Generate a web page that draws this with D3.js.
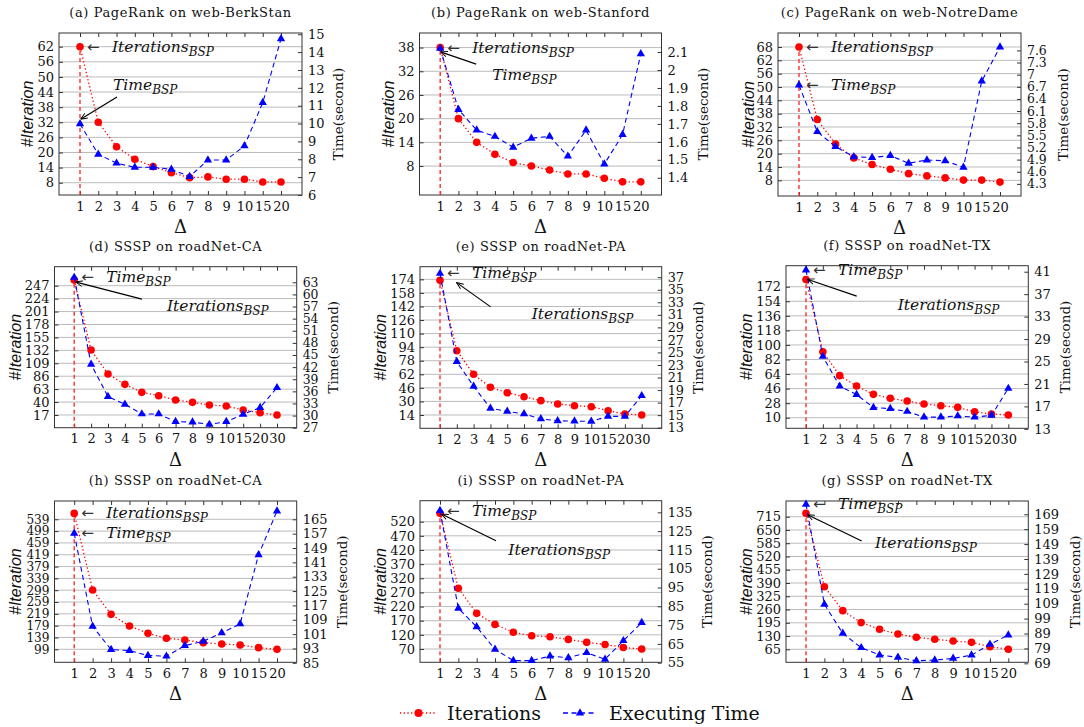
<!DOCTYPE html>
<html><head><meta charset="utf-8">
<script src="https://cdn.jsdelivr.net/npm/d3@7"></script>
<style>body{margin:0;background:#fff;} svg{display:block}</style>
</head><body><svg id="chart" width="1084" height="727"></svg>
<script>
// ---------- categories ----------
const deltaPR   = ["1","2","3","4","5","6","7","8","9","10","15","20"];
const deltaRoad = ["1","2","3","4","5","6","7","8","9","10","15","20","30"];
const seriesNames = ["Iterations", "Executing Time"];

// ---------- series values ----------
const iterA = [62,32,22.3,17.3,14.4,12,10,10.3,9.4,9.4,8.3,8.3];
const timeA = [9.98,8.28,7.78,7.55,7.55,7.44,7.03,7.96,7.96,8.75,11.17,14.74];
const iterB = [38,20,14,11,8.9,8,7,6,6,4.9,4,4];
const timeB = [2.12,1.78,1.665,1.63,1.57,1.62,1.63,1.52,1.665,1.476,1.64,2.09];
const iterC = [68,35.4,24.3,18.1,15.1,13,11,10,9.1,8.1,8.1,7.2];
const timeC = [6.74,5.59,5.22,4.97,4.95,5.0,4.81,4.89,4.87,4.71,6.84,7.68];
const iterD = [257,132.6,89.9,71.5,57.3,51.3,43.6,39.5,34.8,33,25.9,21.1,17];
const timeD = [64.2,42.7,34.7,32.8,30.4,30.4,28.5,28.4,27.8,28.5,30.3,32,36.9];
const iterE = [173,89.8,62,46.7,40.3,35.6,30.9,27,25,23.8,19.1,15.2,14];
const timeE = [37.6,23.55,19.6,16.1,15.6,15.2,14.4,14.1,14.05,14,14.8,14.8,18.1];
const iterF = [181,91.6,62,49.2,38.9,34,30.6,26.9,24.8,22.8,17.4,14.6,13.3];
const timeF = [41.3,25.9,20.6,19.1,16.8,16.6,16.1,15.1,15.1,15.3,15.1,15.4,20.2];
const iterH = [559,299.7,217.3,177.8,153,136.2,130.5,121.5,117,113.6,104.5,99];
const timeH = [157.2,105.3,92.4,91.8,89.1,88.7,94.6,97,101.7,106.7,145.2,169.6];
const iterI = [549.7,284.6,196,157,129,117,113.5,104,93.5,86,75.5,70];
const timeI = [135.9,83.9,74.1,62.1,56.1,56.1,58.5,57.6,60.3,56.8,66.7,76.3];
const iterG = [731.7,372,254.6,195.8,163,140,123.8,114,105.7,99.2,78,65];
const timeG = [175.7,108.6,89.1,79.5,74.6,73,70.7,71.2,72.3,74.5,81.7,88];

// ---------- tick labels ----------
const ticksIterA = [8,14,20,26,32,38,44,50,56,62];
const ticksTimeA = [6,7,8,9,10,11,12,13,14,15];
const ticksIterB = [8,14,20,26,32,38];
const ticksTimeB = [1.4,1.5,1.6,1.7,1.8,1.9,2,2.1];
const ticksIterC = [8,14,20,26,32,38,44,50,56,62,68];
const ticksTimeC = [4.3,4.6,4.9,5.2,5.5,5.8,6.1,6.4,6.7,7,7.3,7.6];
const ticksIterD = [17,40,63,86,109,132,155,178,201,224,247];
const ticksTimeD = [27,30,33,36,39,42,45,48,51,54,57,60,63];
const ticksIterE = [14,30,46,62,78,94,110,126,142,158,174];
const ticksTimeE = [13,15,17,19,21,23,25,27,29,31,33,35,37];
const ticksIterF = [10,28,46,64,82,100,118,136,154,172];
const ticksTimeF = [13,17,21,25,29,33,37,41];
const ticksIterH = [99,139,179,219,259,299,339,379,419,459,499,539];
const ticksTimeH = [85,93,101,109,117,125,133,141,149,157,165];
const ticksIterI = [70,120,170,220,270,320,370,420,470,520];
const ticksTimeI = [55,65,75,85,95,105,115,125,135];
const ticksIterG = [65,130,195,260,325,390,455,520,585,650,715];
const ticksTimeG = [69,79,89,99,109,119,129,139,149,159,169];

// ---------- panel setup (layout) ----------
const panels = [
  {title:"(a) PageRank on web-BerkStan", cats:deltaPR, iter:iterA, time:timeA, iterTicks:ticksIterA, timeTicks:ticksTimeA,
   iterDomain:[3.12,67.44], timeDomain:[6,15.07], box:[59,33,302,195], pad:21, lDx:-31, rDx:36,
   notes:[{kind:"inline", series:"iter", text:"Iterations"},
          {kind:"pointer", series:"time", text:"Time", s:[37,-27], e:[1,-5], l:[33,-34]}]},
  {title:"(b) PageRank on web-Stanford", cats:deltaPR, iter:iterB, time:timeB, iterTicks:ticksIterB, timeTicks:ticksTimeB,
   iterDomain:[0.67,41.69], timeDomain:[1.304,2.206], box:[419.5,33,661.5,195], pad:20.7, lDx:-31, rDx:41,
   notes:[{kind:"inline", series:"iter", text:"Iterations"},
          {kind:"pointer", series:"time", text:"Time", s:[36,15.7], e:[1,3.7], l:[52,31.7]}]},
  {title:"(c) PageRank on web-NotreDame", cats:deltaPR, iter:iterC, time:timeC, iterTicks:ticksIterC, timeTicks:ticksTimeC,
   iterDomain:[0.95,74.29], timeDomain:[4.0,8.03], box:[778,33,1021,196], pad:21, lDx:-29, rDx:42,
   notes:[{kind:"inline", series:"iter", text:"Iterations"},
          {kind:"inline", series:"time", text:"Time"}]},
  {title:"(d) SSSP on roadNet-CA", cats:deltaRoad, iter:iterD, time:timeD, iterTicks:ticksIterD, timeTicks:ticksTimeD,
   iterDomain:[-5.6,280.8], timeDomain:[27,66.86], box:[54.5,266.7,296.7,427.7], pad:19.7, lDx:-39, rDx:36,
   notes:[{kind:"inline", series:"time", text:"Time"},
          {kind:"pointer", series:"iter", text:"Iterations", s:[67.7,19], e:[2,2], l:[92.7,31]}]},
  {title:"(e) SSSP on roadNet-PA", cats:deltaRoad, iter:iterE, time:timeE, iterTicks:ticksIterE, timeTicks:ticksTimeE,
   iterDomain:[-1.68,188.9], timeDomain:[12.9,38.68], box:[420,266.7,661.7,428.3], pad:20, lDx:-39, rDx:36,
   notes:[{kind:"inline", series:"time", text:"Time"},
          {kind:"pointer", series:"iter", text:"Iterations", s:[50.7,26.7], e:[17,2.7], l:[91.7,38.5]}]},
  {title:"(f) SSSP on roadNet-TX", cats:deltaRoad, iter:iterF, time:timeF, iterTicks:ticksIterF, timeTicks:ticksTimeF,
   iterDomain:[-3.1,198], timeDomain:[13.1,42.07], box:[786,265.7,1028.3,428.3], pad:20, lDx:-39, rDx:37,
   notes:[{kind:"inline", series:"time", text:"Time"},
          {kind:"pointer", series:"iter", text:"Iterations", s:[50.7,16.7], e:[2,0], l:[91.7,30.7]}]},
  {title:"(h) SSSP on roadNet-CA", cats:deltaPR, iter:iterH, time:timeH, iterTicks:ticksIterH, timeTicks:ticksTimeH,
   iterDomain:[55,600.9], timeDomain:[85.3,175.2], box:[54.5,501,296.7,662.3], pad:19.7, lDx:-39, rDx:45,
   notes:[{kind:"inline", series:"iter", text:"Iterations"},
          {kind:"inline", series:"time", text:"Time"}]},
  {title:"(i) SSSP on roadNet-PA", cats:deltaPR, iter:iterI, time:timeI, iterTicks:ticksIterI, timeTicks:ticksTimeI,
   iterDomain:[23,594.2], timeDomain:[55.2,141.2], box:[420,500.7,661.7,662.3], pad:20, lDx:-39, rDx:45,
   notes:[{kind:"inline", series:"time", text:"Time"},
          {kind:"pointer", series:"iter", text:"Iterations", s:[56,27.4], e:[2,1], l:[68.3,41.7]}]},
  {title:"(g) SSSP on roadNet-TX", cats:deltaPR, iter:iterG, time:timeG, iterTicks:ticksIterG, timeTicks:ticksTimeG,
   iterDomain:[1.3,792], timeDomain:[69.7,177.9], box:[786,501,1028.3,662.3], pad:20, lDx:-39, rDx:47,
   notes:[{kind:"inline", series:"time", text:"Time"},
          {kind:"pointer", series:"iter", text:"Iterations", s:[55.7,27.7], e:[2,1.7], l:[69,35]}]}
];

const RED = "#ff0000", BLUE = "#0000ff";
const SERIF = "DejaVu Serif";
const svg = d3.select("#chart").attr("font-family", SERIF);

const defs = svg.append("defs");
defs.append("marker").attr("id","arr").attr("viewBox","0 -5 10 10").attr("refX",9).attr("refY",0)
  .attr("markerWidth",7).attr("markerHeight",7).attr("orient","auto").attr("markerUnits","userSpaceOnUse")
  .append("path").attr("d","M0,-4L10,0L0,4").attr("fill","none").attr("stroke","#000").attr("stroke-width",1.3);

const tri = d3.symbol().type(d3.symbolTriangle).size(30);

function bspLabel(g, x, y, main) {
  const t = g.append("text").attr("x", x).attr("y", y)
    .attr("font-family", SERIF).attr("font-style", "italic").attr("font-size", 15.5).attr("fill", "#111");
  t.append("tspan").text(main);
  t.append("tspan").attr("dy", 4).attr("font-size", 12).text("BSP");
}

panels.forEach(p => {
  const [x0, y0, x1, y1] = p.box;
  const g = svg.append("g");
  const x = d3.scalePoint().domain(p.cats).range([x0 + p.pad, x1 - p.pad]);
  const yL = d3.scaleLinear().domain(p.iterDomain).range([y1, y0]);
  const yR = d3.scaleLinear().domain(p.timeDomain).range([y1, y0]);

  // grid
  g.append("g").selectAll("line").data(p.iterTicks).join("line")
    .attr("x1", x0).attr("x2", x1).attr("y1", d => yL(d)).attr("y2", d => yL(d))
    .attr("stroke", "#bbbbbb").attr("stroke-width", 1);

  const styleAxis = (sel, fs) => {
    sel.attr("font-family", SERIF);
    sel.select(".domain").remove();
    sel.selectAll(".tick line").attr("stroke", "#333");
    sel.selectAll(".tick text").attr("font-family", SERIF).attr("font-size", fs).attr("fill", "#111");
  };
  const spacing = (sc, t) => Math.abs(sc(t[1]) - sc(t[0]));
  const fsL = Math.min(13, spacing(yL, p.iterTicks) + 0.3);
  const fsR = Math.min(13, spacing(yR, p.timeTicks) + 0.3);
  g.append("g").attr("transform", `translate(${x0},0)`)
    .call(d3.axisLeft(yL).tickValues(p.iterTicks).tickSize(-4).tickPadding(5).tickFormat(d => String(d))).call(styleAxis, fsL);
  g.append("g").attr("transform", `translate(${x1},0)`)
    .call(d3.axisRight(yR).tickValues(p.timeTicks).tickSize(-4).tickPadding(6).tickFormat(d => String(d))).call(styleAxis, fsR);
  g.append("g").attr("transform", `translate(0,${y1})`)
    .call(d3.axisBottom(x).tickSize(-4).tickPadding(6.5)).call(styleAxis, 13);
  g.append("g").attr("transform", `translate(0,${y0})`)
    .call(d3.axisTop(x).tickSize(-4).tickFormat("")).call(styleAxis, 13);

  // frame
  g.append("rect").attr("x", x0).attr("y", y0).attr("width", x1 - x0).attr("height", y1 - y0)
    .attr("fill", "none").attr("stroke", "#333").attr("stroke-width", 1);

  // title
  g.append("text").attr("x", (x0 + x1) / 2).attr("y", y0 - 16).attr("text-anchor", "middle")
    .attr("font-family", SERIF).attr("font-size", 13).attr("letter-spacing", 0.6).attr("fill", "#111").text(p.title);

  // axis labels
  const yc = (y0 + y1) / 2;
  g.append("text").attr("transform", `translate(${x0 + p.lDx + 5},${yc}) rotate(-90)`)
    .attr("text-anchor", "middle").attr("font-family", "Liberation Sans").attr("font-style", "italic")
    .attr("font-size", 16).attr("fill", "#111").text("#Iteration");
  g.append("text").attr("transform", `translate(${x1 + p.rDx + 5},${yc}) rotate(-90)`)
    .attr("text-anchor", "middle").attr("font-family", SERIF)
    .attr("font-size", 13.5).attr("fill", "#111").text("Time(second)");
  g.append("text").attr("x", (x0 + x1) / 2).attr("y", y1 + 38).attr("text-anchor", "middle")
    .attr("font-family", SERIF).attr("font-size", 18).attr("fill", "#111").text("Δ");

  // vertical BSP line at Δ=1
  g.append("line").attr("x1", x(p.cats[0])).attr("x2", x(p.cats[0]))
    .attr("y1", y1).attr("y2", yL(p.iter[0]))
    .attr("stroke", "#ff3030").attr("stroke-width", 1.4).attr("stroke-dasharray", "4,3");

  // iterations series
  const lineL = d3.line().x((d, i) => x(p.cats[i])).y(d => yL(d));
  const lineR = d3.line().x((d, i) => x(p.cats[i])).y(d => yR(d));
  g.append("path").attr("d", lineL(p.iter)).attr("fill", "none").attr("stroke", RED)
    .attr("stroke-width", 1.3).attr("stroke-dasharray", "1.3,2.4");
  g.append("g").selectAll("circle").data(p.iter).join("circle")
    .attr("cx", (d, i) => x(p.cats[i])).attr("cy", d => yL(d)).attr("r", 3.8).attr("fill", RED);

  // time series
  g.append("path").attr("d", lineR(p.time)).attr("fill", "none").attr("stroke", BLUE)
    .attr("stroke-width", 1.1).attr("stroke-dasharray", "5,3.5");
  g.append("g").selectAll("path").data(p.time).join("path")
    .attr("d", tri).attr("transform", (d, i) => `translate(${x(p.cats[i])},${yR(d)})`).attr("fill", BLUE);

  // annotations
  p.notes.forEach(n => {
    const px = x(p.cats[0]);
    const py = n.series === "iter" ? yL(p.iter[0]) : yR(p.time[0]);
    if (n.kind === "inline") {
      g.append("text").attr("x", px + 7).attr("y", py + 5).attr("font-family", "DejaVu Sans")
        .attr("font-size", 15).attr("fill", "#333").text("←");
      bspLabel(g, px + 32, py + 5, n.text);
    } else {
      g.append("line").attr("x1", px + n.s[0]).attr("y1", py + n.s[1])
        .attr("x2", px + n.e[0]).attr("y2", py + n.e[1])
        .attr("stroke", "#000").attr("stroke-width", 1.2).attr("marker-end", "url(#arr)");
      bspLabel(g, px + n.l[0], py + n.l[1], n.text);
    }
  });
});

// legend
const lg = svg.append("g");
const legendY = 713;
const legendItems = [
  {name: seriesNames[0], x0: 400, x1: 437, text: 447, color: RED, dash: "1.3,2.4", mark: "circle"},
  {name: seriesNames[1], x0: 563, x1: 597, text: 609, color: BLUE, dash: "5,3.5", mark: "tri"}
];
legendItems.forEach(it => {
  lg.append("line").attr("x1", it.x0).attr("x2", it.x1).attr("y1", legendY).attr("y2", legendY)
    .attr("stroke", it.color).attr("stroke-width", 1.3).attr("stroke-dasharray", it.dash);
  const cx = (it.x0 + it.x1) / 2;
  if (it.mark === "circle") lg.append("circle").attr("cx", cx).attr("cy", legendY).attr("r", 4).attr("fill", it.color);
  else lg.append("path").attr("d", tri).attr("transform", `translate(${cx},${legendY})`).attr("fill", it.color);
  lg.append("text").attr("x", it.text).attr("y", legendY + 7).attr("font-family", SERIF)
    .attr("font-size", 19).attr("fill", "#111").text(it.name);
});
</script>
</body></html>
